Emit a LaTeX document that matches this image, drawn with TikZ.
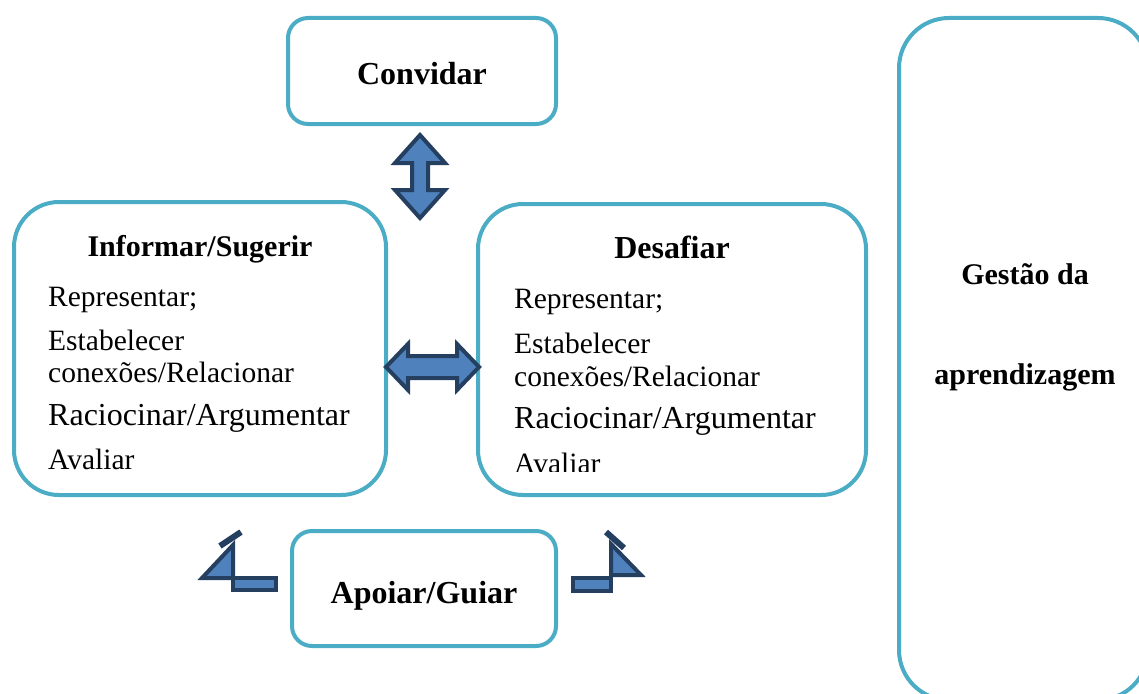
\documentclass[tikz,border=0pt]{standalone}
\usepackage{fontspec}
\setmainfont{Liberation Serif}

\definecolor{caixaazul}{HTML}{4BACC6}
\definecolor{setafundo}{HTML}{4F81BD}
\definecolor{setaborda}{HTML}{243F60}

\tikzset{
  caixa/.style={draw=caixaazul, line width=4pt},
  seta/.style={fill=setafundo, draw=setaborda, line width=4pt, line join=miter},
  titulo/.style={anchor=base, inner sep=0pt, font=\bfseries\fontsize{30}{34}\selectfont},
  titulogrande/.style={titulo, font=\bfseries\fontsize{32}{36}\selectfont},
  item/.style={anchor=base west, inner sep=0pt, font=\fontsize{29.5}{34}\selectfont},
  itemgrande/.style={item, font=\fontsize{32}{36}\selectfont},
}

\begin{document}
\begin{tikzpicture}[x=1pt,y=-1pt]
  \clip (0,0) rectangle (1139,693);

  % caixas
  \node[caixa, rounded corners=20pt, minimum width=268pt, minimum height=106pt] (convidar) at (422,71) {};
  \node[caixa, rounded corners=45pt, minimum width=372pt, minimum height=293pt] (informar) at (200,348.5) {};
  \node[caixa, rounded corners=45pt, minimum width=388pt, minimum height=291pt] (desafiar) at (672,349.5) {};
  \node[caixa, rounded corners=20pt, minimum width=264pt, minimum height=115pt] (apoiar) at (424,588.5) {};
  \node[caixa, rounded corners=50pt, minimum width=249pt, minimum height=682pt] (gestao) at (1023.5,359) {};

  \node[titulogrande] (tconvidar) at (422,84) {Convidar};
  \node[titulogrande] (tapoiar) at (424,603) {Apoiar/Guiar};

  % texto da caixa da esquerda
  \node[titulo] (tinformar) at (200,256) {Informar/Sugerir};
  \node[item] (irep) at (48,306) {Representar;};
  \node[item] (iest) at (48,350) {Estabelecer};
  \node[item] (icon) at (48,382) {conexões/Relacionar};
  \node[itemgrande] (irac) at (48,425) {Raciocinar/Argumentar};
  \node[item] (iava) at (48,469) {Avaliar};

  % texto da caixa da direita
  \node[titulogrande] (tdesafiar) at (672,258) {Desafiar};
  \node[item] (drep) at (514,308) {Representar;};
  \node[item] (dest) at (514,353) {Estabelecer};
  \node[item] (dcon) at (514,386) {conexões/Relacionar};
  \node[itemgrande] (drac) at (514,428) {Raciocinar/Argumentar};
  \begin{scope}
    \clip (480,440) rectangle (860,471);
    \node[item] (dava) at (514,473) {Avaliar};
  \end{scope}

  % gestao
  \node[titulo] (tgestao) at (1025,284) {Gestão da};
  \node[titulo] (taprend) at (1025,384) {aprendizagem};

  % setas duplas
  \draw[seta] (420,135) -- (445,163) -- (428,163) -- (428,190) -- (445,190) -- (420,218)
    -- (395,190) -- (412,190) -- (412,163) -- (395,163) -- cycle;
  \draw[seta] (386,367) -- (408,344) -- (408,356) -- (457,356) -- (457,344) -- (479,367)
    -- (457,390) -- (457,378) -- (408,378) -- (408,390) -- cycle;

  % setas dobradas
  \draw[seta] (233,578) rectangle (276,590);
  \draw[seta] (202,578) -- (233,545) -- (233,578) -- cycle;
  \draw[setaborda, line width=6pt] (220,546) -- (241,532);

  \draw[seta] (573,578) rectangle (611,591);
  \draw[seta] (641,575) -- (611,544) -- (611,575) -- cycle;
  \draw[setaborda, line width=6pt] (606,532) -- (624,548);
\end{tikzpicture}
\end{document}
